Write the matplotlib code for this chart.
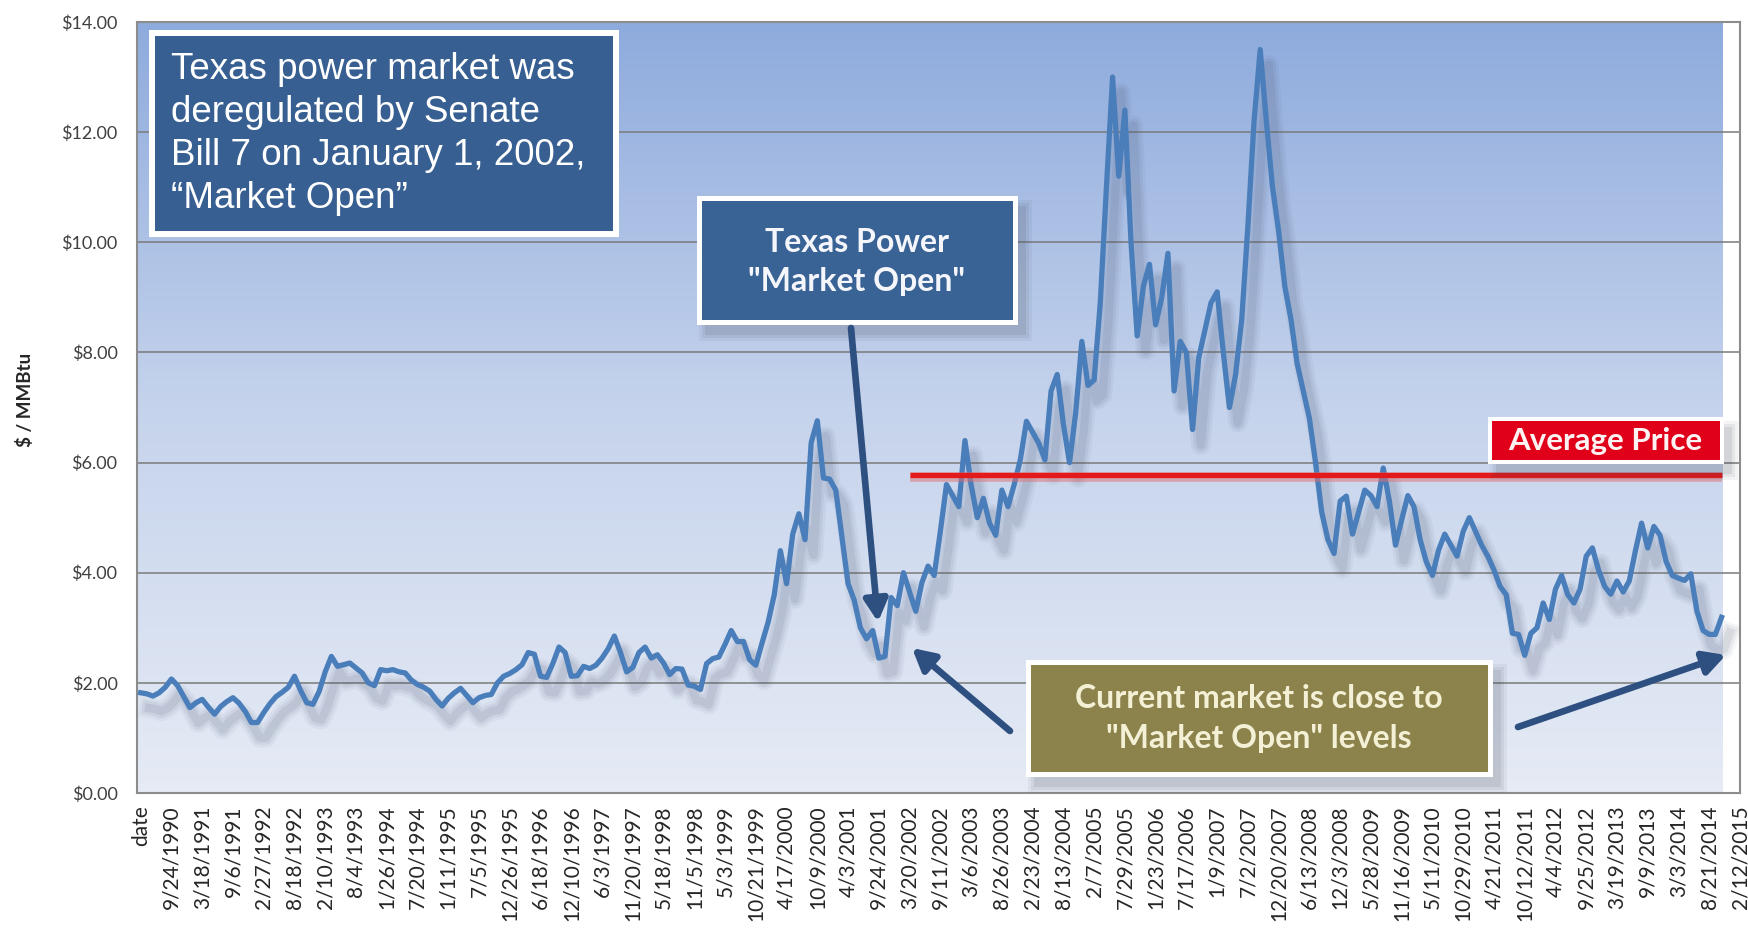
import numpy as np
import matplotlib
matplotlib.use("Agg")
import matplotlib.pyplot as plt
from matplotlib import patheffects as pe
from matplotlib.patches import Rectangle, FancyArrowPatch
from matplotlib.colors import LinearSegmentedColormap

plt.rcParams["font.family"] = ["Lato", "DejaVu Sans"]

W, H = 1749, 930

# category labels on the x axis (one every ~25 weeks)
date_labels = [
    "date", "9/24/1990", "3/18/1991", "9/6/1991", "2/27/1992", "8/18/1992",
    "2/10/1993", "8/4/1993", "1/26/1994", "7/20/1994", "1/11/1995", "7/5/1995",
    "12/26/1995", "6/18/1996", "12/10/1996", "6/3/1997", "11/20/1997", "5/18/1998",
    "11/5/1998", "5/3/1999", "10/21/1999", "4/17/2000", "10/9/2000", "4/3/2001",
    "9/24/2001", "3/20/2002", "9/11/2002", "3/6/2003", "8/26/2003", "2/23/2004",
    "8/13/2004", "2/7/2005", "7/29/2005", "1/23/2006", "7/17/2006", "1/9/2007",
    "7/2/2007", "12/20/2007", "6/13/2008", "12/3/2008", "5/28/2009", "11/16/2009",
    "5/11/2010", "10/29/2010", "4/21/2011", "10/12/2011", "4/4/2012", "9/25/2012",
    "3/19/2013", "9/9/2013", "3/3/2014", "8/21/2014", "2/12/2015",
]

# price in $/MMBtu, 5 samples per label interval
price = [
    1.82, 1.80, 1.76, 1.82, 1.92, 2.07, 1.95, 1.75, 1.55, 1.64,
    1.70, 1.56, 1.43, 1.57, 1.66, 1.73, 1.63, 1.48, 1.28, 1.28,
    1.46, 1.62, 1.75, 1.83, 1.92, 2.12, 1.86, 1.64, 1.61, 1.84,
    2.20, 2.48, 2.30, 2.33, 2.36, 2.27, 2.18, 2.00, 1.95, 2.24,
    2.22, 2.24, 2.20, 2.18, 2.05, 1.97, 1.92, 1.85, 1.70, 1.58,
    1.72, 1.82, 1.90, 1.77, 1.64, 1.73, 1.77, 1.79, 2.00, 2.12,
    2.17, 2.24, 2.33, 2.55, 2.52, 2.12, 2.10, 2.35, 2.65, 2.55,
    2.12, 2.13, 2.30, 2.26, 2.32, 2.45, 2.62, 2.85, 2.55, 2.20,
    2.28, 2.55, 2.65, 2.45, 2.51, 2.36, 2.15, 2.26, 2.25, 1.96,
    1.94, 1.88, 2.35, 2.44, 2.47, 2.70, 2.95, 2.75, 2.75, 2.42,
    2.32, 2.72, 3.10, 3.60, 4.40, 3.80, 4.70, 5.07, 4.60, 6.36,
    6.76, 5.72, 5.70, 5.50, 4.65, 3.80, 3.50, 3.00, 2.80, 2.95,
    2.45, 2.48, 3.55, 3.40, 4.00, 3.65, 3.30, 3.82, 4.12, 3.95,
    4.75, 5.60, 5.40, 5.20, 6.40, 5.60, 5.00, 5.35, 4.90, 4.68,
    5.50, 5.20, 5.60, 6.05, 6.75, 6.55, 6.35, 6.05, 7.30, 7.60,
    6.70, 6.00, 6.90, 8.20, 7.40, 7.50, 8.90, 11.0, 13.0, 11.2,
    12.4, 10.0, 8.30, 9.20, 9.60, 8.50, 9.00, 9.80, 7.30, 8.20,
    8.00, 6.60, 7.90, 8.40, 8.90, 9.10, 8.00, 7.00, 7.60, 8.60,
    10.3, 12.2, 13.5, 12.2, 11.0, 10.2, 9.20, 8.60, 7.80, 7.30,
    6.80, 6.00, 5.10, 4.60, 4.35, 5.30, 5.39, 4.70, 5.10, 5.50,
    5.40, 5.20, 5.90, 5.30, 4.50, 4.96, 5.40, 5.20, 4.60, 4.20,
    3.95, 4.41, 4.70, 4.50, 4.30, 4.75, 5.00, 4.75, 4.50, 4.30,
    4.05, 3.75, 3.60, 2.90, 2.88, 2.50, 2.90, 3.00, 3.45, 3.15,
    3.70, 3.95, 3.60, 3.45, 3.70, 4.30, 4.45, 4.05, 3.75, 3.61,
    3.85, 3.65, 3.85, 4.40, 4.90, 4.45, 4.84, 4.68, 4.20, 3.95,
    3.90, 3.86, 3.98, 3.30, 2.95, 2.88, 2.88, 3.19,
]
SAMPLES_PER_LABEL = 5

average_price = 5.78
average_from = "3/20/2002"

y_ticks = [0, 2, 4, 6, 8, 10, 12, 14]


def px(x, y):
    """pixel (from top-left) -> figure fraction"""
    return x / W, 1 - y / H


def panel(x0, y0, x1, y1, face, border=5, shadow=True):
    if shadow:
        for grow, a in [(6, 0.06), (3, 0.08), (0, 0.10)]:
            fig.add_artist(Rectangle(px(x0 + 8 - grow, y1 + 10 + grow),
                                     (x1 - x0 + 2 * grow) / W, (y1 - y0 + 2 * grow) / H,
                                     transform=fig.transFigure, facecolor="#3c4150",
                                     alpha=a, lw=0, zorder=9))
    fig.add_artist(Rectangle(px(x0, y1), (x1 - x0) / W, (y1 - y0) / H,
                             transform=fig.transFigure, facecolor="white", lw=0, zorder=10))
    fig.add_artist(Rectangle(px(x0 + border, y1 - border), (x1 - x0 - 2 * border) / W,
                             (y1 - y0 - 2 * border) / H, transform=fig.transFigure,
                             facecolor=face, lw=0, zorder=11))


def arrow(x0, y0, x1, y1):
    fig.add_artist(FancyArrowPatch(px(x0, y0), px(x1, y1), transform=fig.transFigure,
                                   arrowstyle="-|>,head_length=13,head_width=7",
                                   mutation_scale=1, color="#2e5080", lw=4.8,
                                   zorder=12, shrinkA=0, shrinkB=0))


fig = plt.figure(figsize=(W / 100, H / 100), dpi=100)
ax = fig.add_axes([137 / W, 1 - 793 / H, (1740 - 137) / W, (793 - 22) / H])

x = np.arange(len(price)) / SAMPLES_PER_LABEL
xmin, xmax = -0.12, 51.43

# gradient plot background
cmap = LinearSegmentedColormap.from_list("bg", ["#e6ebf5", "#c5d3ec", "#8eabdd"])
grad = np.linspace(0, 1, 256).reshape(-1, 1)
ax.imshow(grad, extent=[xmin, xmax, 0, 14], origin="lower", aspect="auto",
          cmap=cmap, zorder=0)

shadow_fx = [pe.SimpleLineShadow(offset=(6, -11), shadow_color="#4a5570", alpha=a, linewidth=w)
             for w, a in [(14, 0.06), (10, 0.08), (6, 0.10)]]
ax.plot(x, price, color="#4a7ebb", lw=3.8, zorder=3, solid_joinstyle="round",
        path_effects=shadow_fx + [pe.Normal()])

avg_x0 = date_labels.index(average_from)
ax.plot([avg_x0, xmax], [average_price, average_price], color="#e31a1c", lw=3.8, zorder=4,
        solid_capstyle="butt",
        path_effects=[pe.SimpleLineShadow(offset=(0, -2), shadow_color="#e07070",
                                          alpha=0.5, linewidth=7), pe.Normal()])

ax.set_xlim(xmin, xmax)
ax.set_ylim(0, 14)
ax.set_yticks(y_ticks)
ax.set_yticklabels([f"${v:.2f}" for v in y_ticks], fontsize=13, color="#404040")
ax.set_xticks(range(len(date_labels)))
ax.set_xticklabels(date_labels, rotation=90, fontsize=15, color="#262626")
ax.tick_params(axis="both", length=0)
ax.tick_params(axis="x", pad=9)
ax.tick_params(axis="y", pad=14)
ax.yaxis.grid(True, color="#7a7a7a", lw=1.1)
ax.set_axisbelow(True)
for s in ax.spines.values():
    s.set_color("#8c8c8c")
    s.set_linewidth(1.5)

fig.text(25 / W, 1 - 400 / H, "$ / MMBtu", rotation=90, ha="center", va="center",
         fontsize=13.5, fontweight="bold", color="#262626")

# top-left note
panel(149, 30, 619, 237, "#375f91", border=6, shadow=False)
note = ["Texas power market was", "deregulated by Senate",
        "Bill 7 on January 1, 2002,", "\u201cMarket Open\u201d"]
for i, line in enumerate(note):
    fig.text(*px(171, 79 + 43 * i), line, ha="left", va="baseline", fontsize=26.5,
             color="white", family="Liberation Sans", zorder=13)

# "Market Open" callout
panel(697, 196, 1018, 325, "#3a6395", border=5)
for i, line in enumerate(["Texas Power", "\"Market Open\""]):
    fig.text(*px(857, 242 + 39 * i), line, ha="center", va="center", fontsize=23,
             fontweight="bold", color="#f4f6fb", zorder=13)
arrow(851, 328, 878, 622)

# current market callout
panel(1026, 660, 1493, 777, "#8c824c", border=5)
for i, line in enumerate(["Current market is close to", "\"Market Open\" levels"]):
    fig.text(*px(1259, 699 + 39 * i), line, ha="center", va="center", fontsize=23,
             fontweight="bold", color="#f4f0d6", zorder=13)
arrow(1010, 731, 912, 648)
arrow(1518, 727, 1726, 655)

# average price label
panel(1488, 417, 1724, 464, "#e1001a", border=4)
fig.text(*px(1605, 441), "Average Price", ha="center", va="center", fontsize=22.5,
         fontweight="bold", color="#fdf3f3", zorder=13)

fig.savefig("out.png", dpi=100)
